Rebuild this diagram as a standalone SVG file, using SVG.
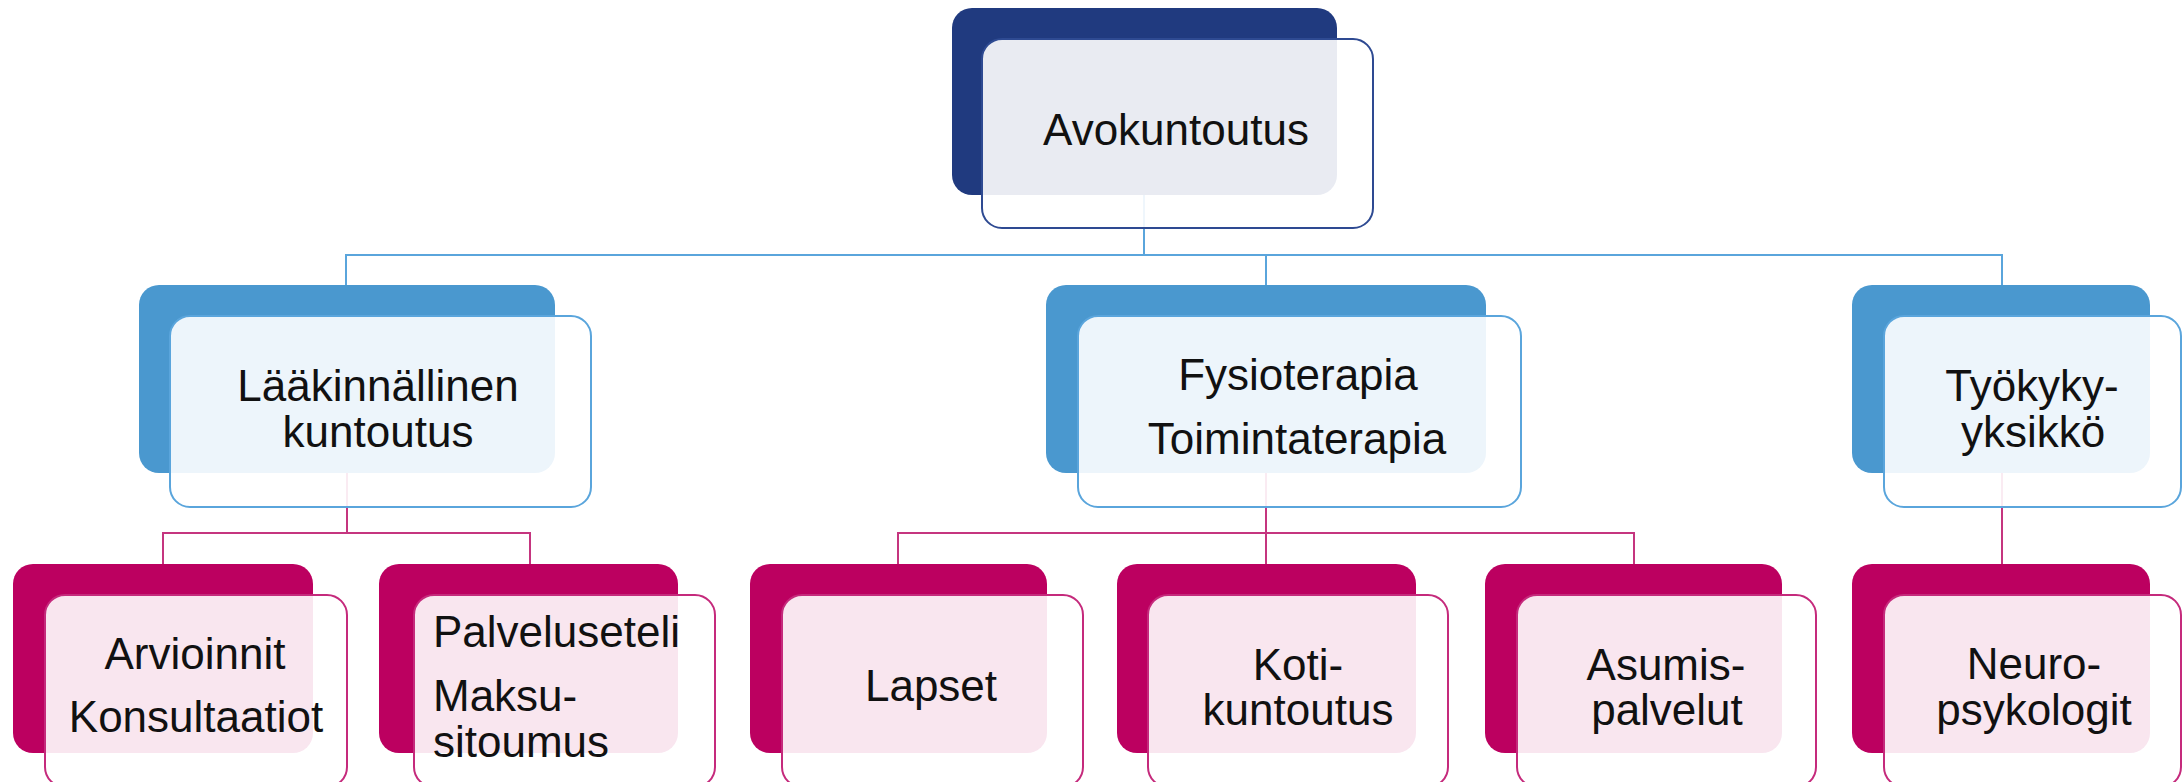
<svg xmlns="http://www.w3.org/2000/svg" width="2182" height="782" viewBox="0 0 2182 782">
<style>
text{font-family:"Liberation Sans",Arial,sans-serif;font-size:44px;fill:#111}
.c{text-anchor:middle}
.lt{fill:#fff;fill-opacity:0.9;stroke-width:2}
.dn{fill:#203A7F}.sn{stroke:#2E4A92}
.db{fill:#4A98CF}.sb{stroke:#5AA5DC}
.dp{fill:#BC0060}.sp{stroke:#C52A7C}
.cb{fill:none;stroke:#5AA5DC;stroke-width:2}
.cp{fill:none;stroke:#C5357F;stroke-width:2}
</style>
<rect width="2182" height="782" fill="#fff"/>
<g id="connectors">
<path class="cb" d="M1144,195V255M346,285V255H2002V285M1266,255V285"/>
<path class="cp" d="M347,473V533M163,564V533H530V564"/>
<path class="cp" d="M1266,473V564M898,564V533H1634V564"/>
<path class="cp" d="M2002,473V564"/>
</g>
<g id="avokuntoutus">
<rect class="dn" x="952" y="8" width="385" height="187" rx="20"/>
<rect class="lt sn" x="982" y="39" width="391" height="189" rx="20"/>
<text class="c" x="1176" y="145">Avokuntoutus</text>
</g>
<g id="laakinnallinen">
<rect class="db" x="139" y="285" width="416" height="188" rx="20"/>
<rect class="lt sb" x="170" y="316" width="421" height="191" rx="20"/>
<text class="c" x="378" y="401">Lääkinnällinen</text>
<text class="c" x="378" y="447">kuntoutus</text>
</g>
<g id="fysioterapia">
<rect class="db" x="1046" y="285" width="440" height="188" rx="20"/>
<rect class="lt sb" x="1078" y="316" width="443" height="191" rx="20"/>
<text class="c" x="1298" y="390">Fysioterapia</text>
<text class="c" x="1297" y="454">Toimintaterapia</text>
</g>
<g id="tyokyky">
<rect class="db" x="1852" y="285" width="298" height="188" rx="20"/>
<rect class="lt sb" x="1884" y="316" width="297" height="191" rx="20"/>
<text class="c" x="2032" y="401">Työkyky-</text>
<text class="c" x="2033" y="447">yksikkö</text>
</g>
<g id="arvioinnit">
<rect class="dp" x="13" y="564" width="300" height="189" rx="20"/>
<rect class="lt sp" x="45" y="595" width="302" height="192" rx="20"/>
<text class="c" x="195" y="669">Arvioinnit</text>
<text class="c" x="196" y="732">Konsultaatiot</text>
</g>
<g id="palveluseteli">
<rect class="dp" x="379" y="564" width="299" height="189" rx="20"/>
<rect class="lt sp" x="414" y="595" width="301" height="192" rx="20"/>
<text x="433" y="647">Palveluseteli</text>
<text x="433" y="711">Maksu-</text>
<text x="433" y="757">sitoumus</text>
</g>
<g id="lapset">
<rect class="dp" x="750" y="564" width="297" height="189" rx="20"/>
<rect class="lt sp" x="782" y="595" width="301" height="192" rx="20"/>
<text class="c" x="931" y="701">Lapset</text>
</g>
<g id="kotikuntoutus">
<rect class="dp" x="1117" y="564" width="299" height="189" rx="20"/>
<rect class="lt sp" x="1148" y="595" width="300" height="192" rx="20"/>
<text class="c" x="1298" y="680">Koti-</text>
<text class="c" x="1298" y="725">kuntoutus</text>
</g>
<g id="asumispalvelut">
<rect class="dp" x="1485" y="564" width="297" height="189" rx="20"/>
<rect class="lt sp" x="1517" y="595" width="299" height="192" rx="20"/>
<text class="c" x="1666" y="680">Asumis-</text>
<text class="c" x="1667" y="725">palvelut</text>
</g>
<g id="neuropsykologit">
<rect class="dp" x="1852" y="564" width="298" height="189" rx="20"/>
<rect class="lt sp" x="1884" y="595" width="297" height="192" rx="20"/>
<text class="c" x="2034" y="679">Neuro-</text>
<text class="c" x="2034" y="725">psykologit</text>
</g>
</svg>
